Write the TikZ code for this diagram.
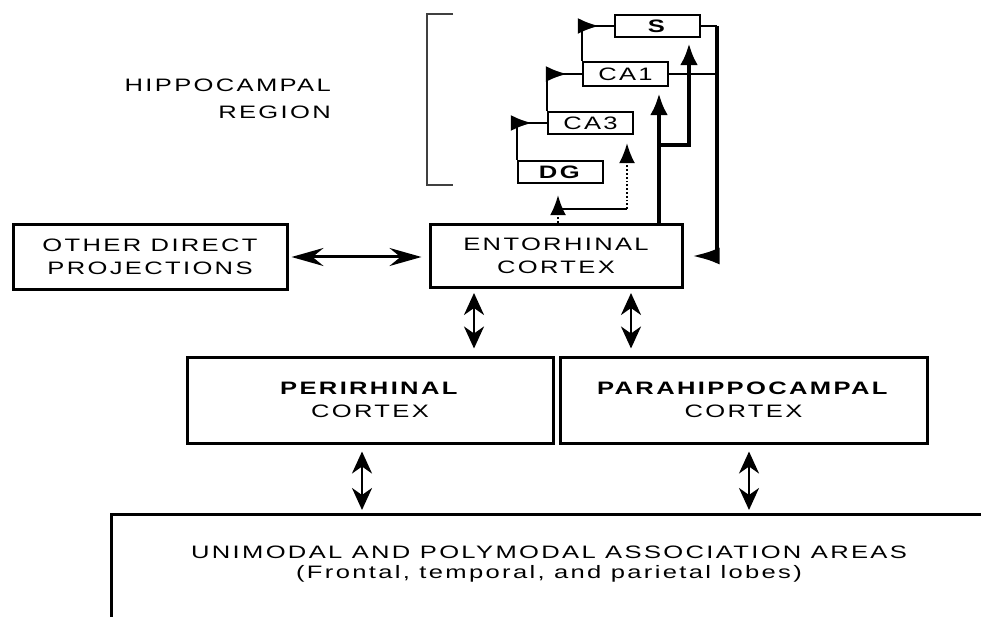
\documentclass[tikz,border=0pt]{standalone}
\usepackage{fontspec}
\setmainfont{Liberation Sans}[FakeStretch=1.42,LetterSpace=13]
\usetikzlibrary{arrows.meta,positioning,decorations.markings}
\tikzstyle{areaBox}=[draw, line width=3pt, align=center, inner sep=0pt, font=\fontsize{18}{23}\selectfont]
\tikzstyle{subBox}=[draw, line width=2.4pt, inner sep=0pt, minimum width=85pt, minimum height=22pt, font=\fontsize{18}{20}\selectfont]
\tikzstyle{invisText}=[inner sep=0pt, align=center, font=\fontsize{18}{20}\selectfont]
\tikzstyle{twoWay}=[line width=2.6pt, {Stealth[length=22pt,width=20pt,inset=7pt]}-{Stealth[length=22pt,width=20pt,inset=7pt]}]
\tikzstyle{sideWay}=[line width=3pt, {Stealth[length=32pt,width=18pt,inset=11pt]}-{Stealth[length=32pt,width=18pt,inset=11pt]}]
\tikzstyle{flagArrow}=[line width=2.4pt, postaction={decorate}, decoration={markings, mark=at position -15pt with {\arrow{Latex[length=21pt,width=16pt]}}}]
\tikzstyle{thinLine}=[line width=2.4pt]
\tikzstyle{thickLine}=[line width=4.5pt]
\tikzstyle{dotLine}=[line width=1.8pt, dotted, -{Latex[length=20pt,width=16pt]}]

\begin{document}
\begin{tikzpicture}[x=1pt,y=-1pt]
    \clip (0,0) rectangle (981,617);

    % cortical areas
    \node[areaBox, minimum width=274pt, minimum height=64pt] (odp) at (150,257) {OTHER DIRECT\\PROJECTIONS};
    \node[areaBox, minimum width=252pt, minimum height=63pt] (ec) at (556,256) {ENTORHINAL\\CORTEX};
    \node[areaBox, minimum width=366pt, minimum height=86pt] (prc) at (370,400) {\textbf{PERIRHINAL}\\CORTEX};
    \node[areaBox, minimum width=367pt, minimum height=86pt] (phc) at (743.5,400) {\textbf{PARAHIPPOCAMPAL}\\CORTEX};
    \node[areaBox, minimum width=890pt, minimum height=200pt, anchor=north west] (uni) at (110,513) {};
    \node[invisText] (unitext) at (549,564) {UNIMODAL AND POLYMODAL ASSOCIATION AREAS\\(Frontal, temporal, and parietal lobes)};

    % hippocampal region
    \node[subBox] (s) at (657.5,26) {\textbf{S}};
    \node[subBox, minimum height=24pt] (ca1) at (625.5,74) {CA1};
    \node[subBox] (ca3) at (590.5,123) {CA3};
    \node[subBox] (dg) at (560.5,172) {\textbf{DG}};
    \node[invisText, align=right, anchor=east, font=\fontsize{18}{27}\selectfont] (hipp) at (331,99) {HIPPOCAMPAL\\REGION};
    \draw[line width=2.4pt, black!75] (453,14) -| (427,185) -- (453,185);

    % two-way projections
    \draw[sideWay, shorten <=3pt, shorten >=7pt] (odp.east) -- (odp.east -| ec.west);
    \draw[twoWay, shorten <=4pt, shorten >=7pt] ([xshift=-82pt]ec.south) -- ([xshift=-82pt]ec.south |- prc.north);
    \draw[twoWay, shorten <=4pt, shorten >=7pt] ([xshift=75pt]ec.south) -- ([xshift=75pt]ec.south |- phc.north);
    \draw[twoWay, shorten <=7pt, shorten >=3pt] ([xshift=-8pt]prc.south) -- ([xshift=-8pt]prc.south |- uni.north);
    \draw[twoWay, shorten <=7pt, shorten >=3pt] ([xshift=5.5pt]phc.south) -- ([xshift=5.5pt]phc.south |- uni.north);

    % intrinsic circuit
    \draw[flagArrow] (dg.north west) |- (ca3.west);
    \draw[flagArrow] (ca3.north west) |- (ca1.west);
    \draw[flagArrow] (ca1.north west) |- (s.west);

    % perforant path
    \coordinate (split) at (558,209);
    \coordinate (ca3in) at ([xshift=36.5pt]ca3.south);
    \draw[dotLine, shorten >=11pt] ([xshift=2pt]ec.north) -- ([xshift=2pt]ec.north |- dg.south);
    \draw[thinLine] (split) -- (split -| ca3in);
    \draw[dotLine, shorten >=8pt] (split -| ca3in) -- (ca3in);

    \coordinate (ca1in) at ([xshift=33.5pt]ca1.south);
    \coordinate (sin) at ([xshift=31.5pt]s.south);
    \coordinate (branch) at (659,145);
    \draw[thickLine, -{Latex[length=22pt,width=18pt]}, shorten >=6pt] (ca1in |- ec.north) -- (ca1in);
    \draw[thickLine, -{Latex[length=22pt,width=18pt]}, shorten >=5pt] (branch) -| (sin);

    % return to entorhinal cortex
    \coordinate (ret) at (717,0);
    \draw[thinLine] (s.east) -- (s.east -| ret);
    \draw[thinLine] (ca1.east) -- (ca1.east -| ret);
    \draw[thickLine, -{Latex[length=28pt,width=17pt]}, shorten >=8pt] (s.east -| ret) |- (ec.east);
\end{tikzpicture}
\end{document}
